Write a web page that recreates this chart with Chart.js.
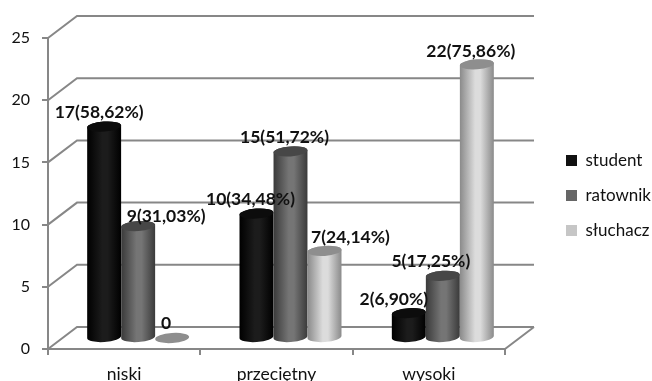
<!DOCTYPE html>
<html lang="pl">
<head>
<meta charset="utf-8">
<title>Poziom: niski, przeciętny, wysoki</title>
<script src="https://cdn.jsdelivr.net/npm/chart.js@4"></script>
<style>
  html, body { margin: 0; padding: 0; background: #fff; }
  canvas { display: block; }
</style>
</head>
<body>
<canvas id="chart" width="652" height="381"></canvas>
<script>
// Chart values
const categories = ['niski', 'przeciętny', 'wysoki'];
const seriesNames = ['student', 'ratownik', 'słuchacz'];
const student = [17, 10, 2];
const ratownik = [9, 15, 5];
const sluchacz = [0, 7, 22];
const studentPct = ['58,62%', '34,48%', '6,90%'];
const ratownikPct = ['31,03%', '51,72%', '17,25%'];
const sluchaczPct = ['', '24,14%', '75,86%'];
const yTicks = [0, 5, 10, 15, 20, 25];

// Appearance of the pseudo-3D scene
const LINE = '#878787';
const DEPTH = { x: 29, y: -22 };          // back wall relative to the front plane
const BAR_SHIFT = { x: 14, y: -11 };      // cylinders stand halfway into the floor
const legendColors = ['#111111', '#666666', '#c6c6c6'];
const cylinderLooks = [
  { edge: '#000000', mid: '#1c1c1c', top: '#0c0c0c' },
  { edge: '#3a3a3a', mid: '#757575', top: '#474747' },
  { edge: '#8a8a8a', mid: '#dcdcdc', top: '#8e8e8e' }
];
// Label placement relative to each cylinder's top: [dx, dy] per series and category
const labelNudge = [
  [[-5, -14], [-6, -14], [-15, -14]],
  [[28, -10], [-6, -14], [-12, -14]],
  [[-6, -15], [26, -14], [-6, -13]]
];

const scene3d = {
  id: 'scene3d',
  afterLayout(chart) {
    // Legend sits further right and higher than the space the layout reserves for it
    const legend = chart.legend;
    legend.left += 43;
    legend.right += 43;
    legend.top -= 14;
    legend.bottom -= 14;
  },
  beforeDatasetsDraw(chart) {
    const { ctx, chartArea: a, scales: { x, y } } = chart;
    ctx.save();
    ctx.strokeStyle = LINE;
    ctx.lineWidth = 2;
    ctx.beginPath();
    for (const v of yTicks) {
      const py = y.getPixelForValue(v);
      ctx.moveTo(a.left, py);
      ctx.lineTo(a.left + DEPTH.x, py + DEPTH.y);
      ctx.lineTo(a.right + DEPTH.x, py + DEPTH.y);
    }
    const floor = y.getPixelForValue(0);
    ctx.moveTo(a.right, floor);
    ctx.lineTo(a.right + DEPTH.x, floor + DEPTH.y);
    ctx.stroke();
    ctx.restore();

    chart.data.datasets.forEach((ds, i) => {
      chart.getDatasetMeta(i).data.forEach(bar => drawCylinder(ctx, bar, cylinderLooks[i]));
    });
    return false;
  },
  afterDraw(chart) {
    // Value labels go on top of everything
    const { ctx } = chart;
    const pct = [studentPct, ratownikPct, sluchaczPct];
    ctx.save();
    ctx.font = 'bold 17.5px Lato';
    ctx.fillStyle = '#111111';
    ctx.textAlign = 'center';
    ctx.textBaseline = 'middle';
    chart.data.datasets.forEach((ds, i) => {
      chart.getDatasetMeta(i).data.forEach((bar, j) => {
        const text = ds.data[j] === 0 ? '0' : `${ds.data[j]}(${pct[i][j]})`;
        const [dx, dy] = labelNudge[i][j];
        ctx.fillText(text, bar.x + BAR_SHIFT.x + dx, bar.y + BAR_SHIFT.y + dy);
      });
    });
    ctx.restore();
  }
};

function drawCylinder(ctx, bar, look) {
  const cx = bar.x + BAR_SHIFT.x;
  const rx = bar.width / 2;
  const ry = 5;
  const tilt = -0.07;
  const top = bar.y + BAR_SHIFT.y;
  const base = bar.base + BAR_SHIFT.y;
  ctx.save();
  if (base - top > 0.5) {
    const g = ctx.createLinearGradient(cx - rx, 0, cx + rx, 0);
    g.addColorStop(0, look.edge);
    g.addColorStop(0.45, look.mid);
    g.addColorStop(0.6, look.mid);
    g.addColorStop(1, look.edge);
    ctx.fillStyle = g;
    ctx.beginPath();
    ctx.ellipse(cx, base, rx, ry, tilt, Math.PI, 0, true);
    ctx.ellipse(cx, top, rx, ry, tilt, 0, Math.PI, true);
    ctx.closePath();
    ctx.fill();
  }
  ctx.fillStyle = look.top;
  ctx.beginPath();
  ctx.ellipse(cx, top, rx, ry, tilt, 0, Math.PI * 2);
  ctx.fill();
  ctx.restore();
}

new Chart(document.getElementById('chart'), {
  type: 'bar',
  data: {
    labels: categories,
    datasets: [student, ratownik, sluchacz].map((values, i) => ({
      label: seriesNames[i],
      data: values,
      backgroundColor: legendColors[i],
      categoryPercentage: 0.67,
      barPercentage: 1
    }))
  },
  plugins: [scene3d],
  options: {
    responsive: false,
    animation: false,
    layout: { padding: { top: 38, right: 34, left: 0, bottom: 0 } },
    plugins: {
      tooltip: { enabled: false },
      legend: {
        position: 'right',
        labels: {
          boxWidth: 11,
          boxHeight: 11,
          padding: 18,
          color: '#111111',
          font: { family: 'Lato', size: 17 }
        }
      }
    },
    scales: {
      x: {
        afterFit(scale) { scale.height = 32; },
        grid: {
          offset: true,
          drawOnChartArea: false,
          color: LINE,
          tickColor: LINE,
          tickLength: 6,
          lineWidth: 2
        },
        border: { color: LINE, width: 2 },
        ticks: { color: '#111111', padding: 9, font: { family: 'Lato', size: 17.5 } }
      },
      y: {
        min: 0,
        max: 25,
        afterFit(scale) { scale.width = 48; },
        afterBuildTicks(scale) { scale.ticks = yTicks.map(value => ({ value })); },
        grid: {
          drawOnChartArea: false,
          color: LINE,
          tickColor: LINE,
          tickLength: 6,
          lineWidth: 2
        },
        border: { color: LINE, width: 2 },
        ticks: { color: '#111111', padding: 12, font: { family: 'Lato', size: 16 } }
      }
    }
  }
});
</script>
</body>
</html>
